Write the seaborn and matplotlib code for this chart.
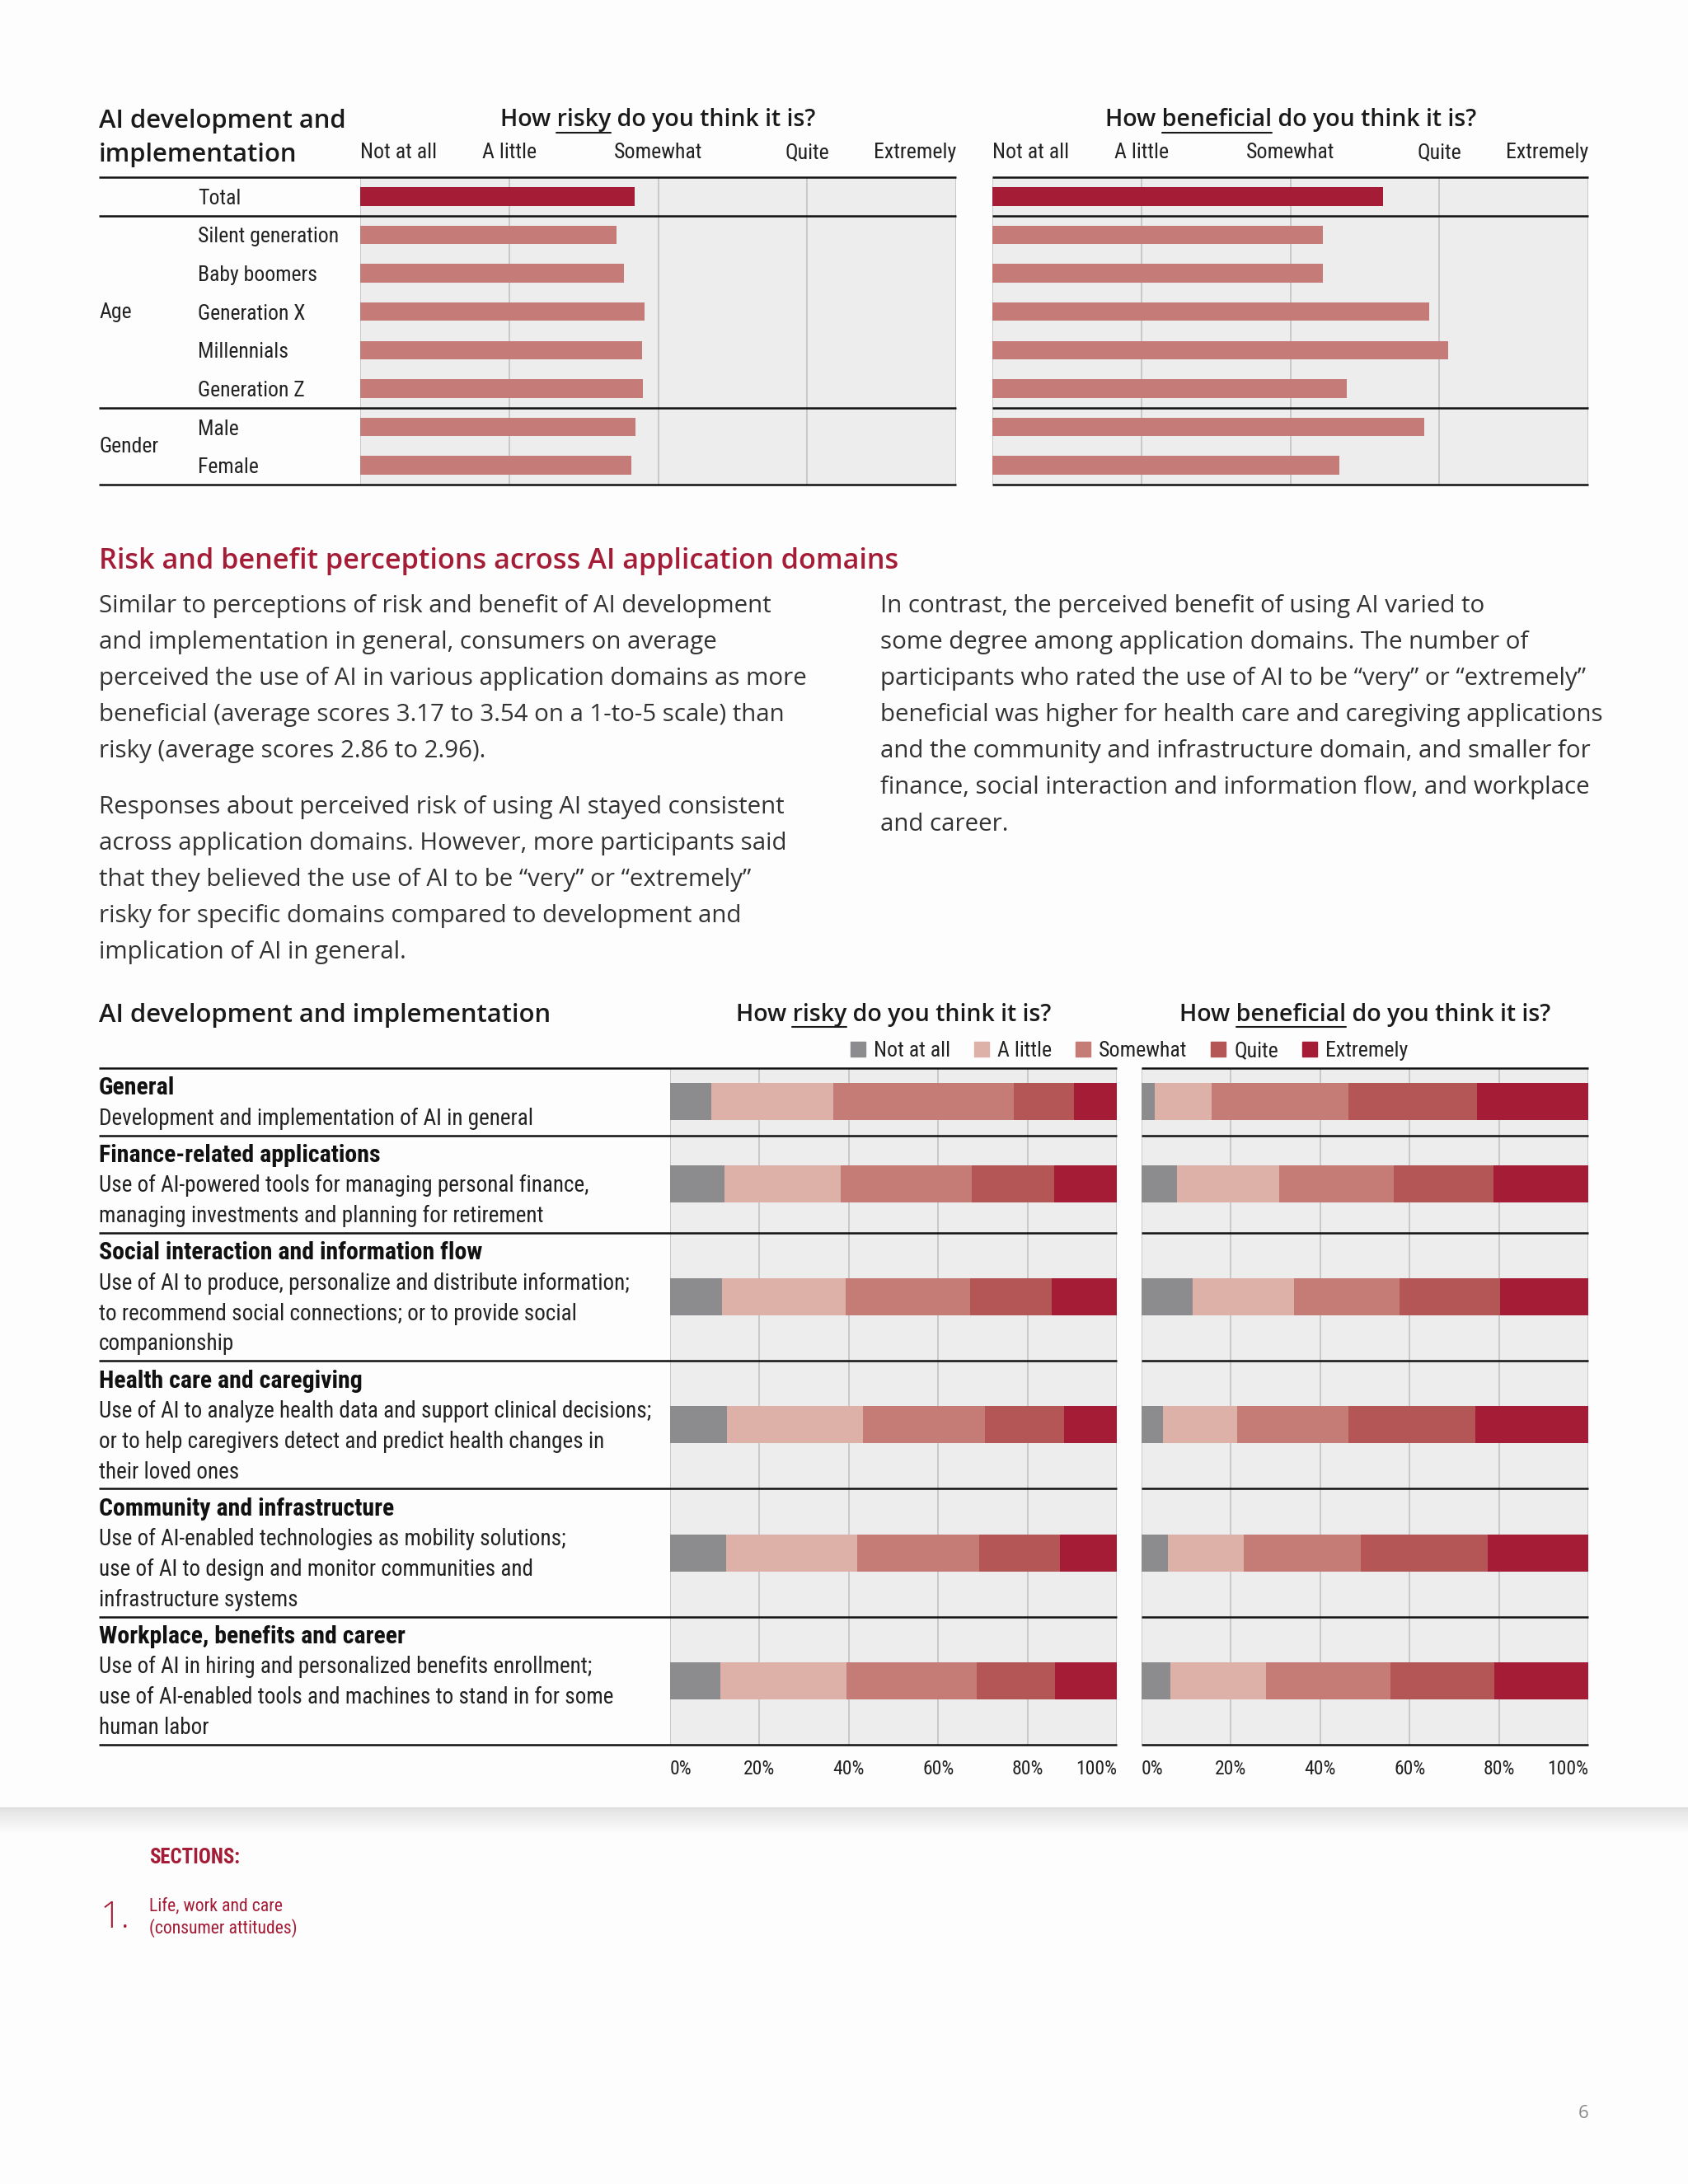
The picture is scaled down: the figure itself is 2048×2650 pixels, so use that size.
import numpy as np
import pandas as pd
import seaborn as sns
import matplotlib.pyplot as plt
from matplotlib import font_manager
from matplotlib.patches import Patch

W, H = 2048, 2650

# top chart: mean scores on the 1-to-5 scale
groups = ["Total", "Silent generation", "Baby boomers", "Generation X",
          "Millennials", "Generation Z", "Male", "Female"]
risk_means = [2.84, 2.72, 2.77, 2.91, 2.89, 2.90, 2.85, 2.82]
benefit_means = [3.62, 3.22, 3.22, 3.93, 4.06, 3.38, 3.90, 3.33]
scale_labels = ["Not at all", "A little", "Somewhat", "Quite", "Extremely"]

# bottom chart: share of answers per domain (%)
domains = ["General", "Finance-related applications",
           "Social interaction and information flow", "Health care and caregiving",
           "Community and infrastructure", "Workplace, benefits and career"]
domain_desc = [
    ["Development and implementation of AI in general"],
    ["Use of AI-powered tools for managing personal finance,",
     "managing investments and planning for retirement"],
    ["Use of AI to produce, personalize and distribute information;",
     "to recommend social connections; or to provide social",
     "companionship"],
    ["Use of AI to analyze health data and support clinical decisions;",
     "or to help caregivers detect and predict health changes in",
     "their loved ones"],
    ["Use of AI-enabled technologies as mobility solutions;",
     "use of AI to design and monitor communities and",
     "infrastructure systems"],
    ["Use of AI in hiring and personalized benefits enrollment;",
     "use of AI-enabled tools and machines to stand in for some",
     "human labor"],
]
risk_not_at_all = [9.3, 12.1, 11.6, 12.8, 12.6, 11.3]
risk_a_little = [27.3, 26.0, 27.7, 30.3, 29.3, 28.1]
risk_somewhat = [40.3, 29.5, 27.8, 27.3, 27.2, 29.3]
risk_quite = [13.5, 18.3, 18.3, 17.7, 18.1, 17.5]
risk_extremely = [9.6, 14.1, 14.6, 11.9, 12.8, 13.8]
benefit_not_at_all = [2.9, 7.9, 11.5, 4.8, 5.9, 6.5]
benefit_a_little = [12.8, 22.9, 22.6, 16.6, 16.9, 21.4]
benefit_somewhat = [30.6, 25.6, 23.6, 25.0, 26.2, 27.9]
benefit_quite = [28.7, 22.3, 22.6, 28.3, 28.5, 23.1]
benefit_extremely = [25.0, 21.3, 19.7, 25.3, 22.5, 21.1]
pct_ticks = [0, 20, 40, 60, 80, 100]

left_par = ["Similar to perceptions of risk and benefit of AI development",
            "and implementation in general, consumers on average",
            "perceived the use of AI in various application domains as more",
            "beneficial (average scores 3.17 to 3.54 on a 1-to-5 scale) than",
            "risky (average scores 2.86 to 2.96).",
            None,
            "Responses about perceived risk of using AI stayed consistent",
            "across application domains. However, more participants said",
            "that they believed the use of AI to be \u201cvery\u201d or \u201cextremely\u201d",
            "risky for specific domains compared to development and",
            "implication of AI in general."]
right_par = ["In contrast, the perceived benefit of using AI varied to",
             "some degree among application domains. The number of",
             "participants who rated the use of AI to be \u201cvery\u201d or \u201cextremely\u201d",
             "beneficial was higher for health care and caregiving applications",
             "and the community and infrastructure domain, and smaller for",
             "finance, social interaction and information flow, and workplace",
             "and career."]

CRIMSON = "#a51c36"
PANEL = "#ededee"
GRID = "#c6c6c8"
TXT = "#222222"
seg_colors = ["#8c8c8e", "#ddb0a8", "#c57b76", "#b55656", "#a51c36"]

sns.set_theme(style="white")
plt.rcParams["font.family"] = ["Open Sans", "DejaVu Sans"]

avail = {f.name for f in font_manager.fontManager.ttflist}
narrow_name = next((n for n in ["Liberation Sans Narrow", "Roboto Condensed", "Open Sans Condensed",
                                "Arial Narrow", "Roboto"] if n in avail), "DejaVu Sans")
NARROW = [narrow_name, "DejaVu Sans"]
WIDE = ["Open Sans", "DejaVu Sans"]

fig = plt.figure(figsize=(W / 100, H / 100), dpi=100, facecolor="#fdfdfd")
renderer = fig.canvas.get_renderer()

bg = fig.add_axes([0, 0, 1, 1], zorder=0)
bg.set_xlim(0, W)
bg.set_ylim(H, 0)
bg.axis("off")

ov = fig.add_axes([0, 0, 1, 1], zorder=10)
ov.set_xlim(0, W)
ov.set_ylim(H, 0)
ov.axis("off")
ov.patch.set_visible(False)


def fit_size(sample, target, **kw):
    # font size that gives the sample string the same width as in the reference
    t = bg.text(0, 0, sample, fontsize=20, **kw)
    w = t.get_window_extent(renderer).width
    t.remove()
    return 20 * target / w


FS_DESC = fit_size("Use of AI to analyze health data and support clinical decisions;", 667, family=NARROW)
FS_BOLD = fit_size("Finance-related applications", 341, family=NARROW, weight="bold")
FS_ROW = fit_size("Silent generation", 171, family=NARROW)
FS_COL = fit_size("Somewhat", 107, family=NARROW)
FS_PCT = fit_size("100%", 50, family=NARROW)
FS_PAR = fit_size("Similar to perceptions of risk and benefit of AI development", 815, family=WIDE)
FS_HEAD = fit_size("Risk and benefit perceptions across AI application domains", 970,
                   family=WIDE, weight="semibold")
FS_TITLE = fit_size("AI development and implementation", 548, family=WIDE, weight="semibold")
FS_Q = fit_size("How risky do you think it is?", 384, family=WIDE, weight="semibold")
FS_SEC = fit_size("SECTIONS:", 110, family=NARROW, weight="bold")
FS_NAV = fit_size("Life, work and care", 162, family=NARROW)


def panel(x0, x1, y0, y1):
    ax = fig.add_axes([x0 / W, 1 - y1 / H, (x1 - x0) / W, (y1 - y0) / H], zorder=2)
    ax.set_facecolor(PANEL)
    for s in ax.spines.values():
        s.set_visible(False)
    return ax


def question(xc, y, word):
    kw = dict(fontsize=FS_Q, color="#1a1a1a", va="center", family=WIDE, weight="semibold")
    t = bg.text(xc, y, f"How {word} do you think it is?", ha="center", **kw)
    wfull = t.get_window_extent(renderer).width
    tmp = bg.text(0, 0, f"How {word}", **kw)
    w1 = tmp.get_window_extent(renderer).width
    tmp.remove()
    tmp = bg.text(0, 0, word, **kw)
    w2 = tmp.get_window_extent(renderer).width
    tmp.remove()
    x0 = xc - wfull / 2
    bg.plot([x0 + w1 - w2, x0 + w1], [y + 15, y + 15], color="#1a1a1a", lw=1.5)


# ---------------- top chart ----------------
top_df = pd.DataFrame({"group": groups, "risk": risk_means, "benefit": benefit_means})
pal = [CRIMSON] + ["#c57b78"] * (len(groups) - 1)
TOP_Y0, TOP_Y1 = 215, 588
for col, (x0, x1) in [("risk", (437, 1160)), ("benefit", (1204, 1927))]:
    ax = panel(x0, x1, TOP_Y0, TOP_Y1)
    sns.barplot(data=top_df, x=col, y="group", hue="group", palette=pal, legend=False,
                width=0.48, linewidth=0, saturation=1, ax=ax)
    ax.set_xlim(1, 5)
    ax.set_ylim(len(groups) - 0.5, -0.5)
    ax.set_xlabel("")
    ax.set_ylabel("")
    ax.set_axisbelow(True)
    ax.xaxis.grid(True, color=GRID, lw=1.3)
    ax.xaxis.tick_top()
    ax.set_xticks([1, 2, 3, 4, 5], scale_labels)
    ax.tick_params(axis="x", length=0, pad=13, labelsize=FS_COL, labelcolor=TXT)
    for lab in ax.get_xticklabels():
        lab.set_family(NARROW)
        if lab.get_text() == scale_labels[0]:
            lab.set_ha("left")
        elif lab.get_text() == scale_labels[-1]:
            lab.set_ha("right")
    if col == "risk":
        ax.tick_params(axis="y", length=0, pad=(x0 - 240) * 0.72, labelsize=FS_ROW, labelcolor=TXT)
        for lab in ax.get_yticklabels():
            lab.set_ha("left")
            lab.set_family(NARROW)
    else:
        ax.set_yticklabels([])
        ax.tick_params(axis="y", length=0)
    row_h = (TOP_Y1 - TOP_Y0) / len(groups)
    xa = 120 if col == "risk" else x0
    for k in [0, 1, 6, 8]:
        ov.plot([xa, x1], [TOP_Y0 + k * row_h, TOP_Y0 + k * row_h], color="#111111", lw=1.8,
                solid_capstyle="butt")

bg.text(120, 147, "AI development and", fontsize=FS_TITLE, weight="semibold", color="#1a1a1a", va="center")
bg.text(120, 188, "implementation", fontsize=FS_TITLE, weight="semibold", color="#1a1a1a", va="center")
bg.text(120, 379, "Age", fontsize=FS_ROW, family=NARROW, color=TXT, va="center")
bg.text(120, 542, "Gender", fontsize=FS_ROW, family=NARROW, color=TXT, va="center")
question(798, 146, "risky")
question(1566, 146, "beneficial")

# ---------------- text block ----------------
bg.text(120, 681, "Risk and benefit perceptions across AI application domains",
        fontsize=FS_HEAD, weight="semibold", color=CRIMSON, va="center")
y = 736
for line in left_par:
    if line is None:
        y += 24
        continue
    bg.text(120, y, line, fontsize=FS_PAR, color="#333333", va="center")
    y += 44
for i, line in enumerate(right_par):
    bg.text(1068, 736 + 44 * i, line, fontsize=FS_PAR, color="#333333", va="center")

# ---------------- bottom chart ----------------
bg.text(120, 1232, "AI development and implementation", fontsize=FS_TITLE, weight="semibold",
        color="#1a1a1a", va="center")
question(1084, 1231, "risky")
question(1656, 1231, "beneficial")
handles = [Patch(color=c) for c in seg_colors]
fig.legend(handles, scale_labels, loc="center", bbox_to_anchor=(1370 / W, 1 - 1275 / H), ncol=5,
           frameon=False, handlelength=0.7, handleheight=0.7, handletextpad=0.4, columnspacing=1.1,
           prop={"family": NARROW, "size": FS_COL}, labelcolor=TXT)

n_lines = np.array([1 + len(d) for d in domain_desc])
row_heights = 36.8 * n_lines + 8
edges = 1296 + np.concatenate([[0], np.cumsum(row_heights)])
centers = (edges[:-1] + edges[1:]) / 2

risk_parts = [risk_not_at_all, risk_a_little, risk_somewhat, risk_quite, risk_extremely]
benefit_parts = [benefit_not_at_all, benefit_a_little, benefit_somewhat, benefit_quite, benefit_extremely]
for parts, (x0, x1) in [(risk_parts, (813, 1355)), (benefit_parts, (1385, 1927))]:
    ax = panel(x0, x1, edges[0], edges[-1])
    left = np.zeros(len(domains))
    for vals, c in zip(parts, seg_colors):
        ax.barh(centers, vals, left=left, height=45, color=c, linewidth=0)
        left += np.array(vals)
    ax.set_xlim(0, 100)
    ax.set_ylim(edges[-1], edges[0])
    ax.set_yticks([])
    ax.set_axisbelow(True)
    ax.xaxis.grid(True, color=GRID, lw=1.3)
    ax.set_xticks(pct_ticks, [f"{v}%" for v in pct_ticks])
    ax.tick_params(axis="x", length=0, pad=13, labelsize=FS_PCT, labelcolor=TXT)
    for lab in ax.get_xticklabels():
        lab.set_family(NARROW)
        if lab.get_text() == "0%":
            lab.set_ha("left")
        elif lab.get_text() == "100%":
            lab.set_ha("right")
    xa = 120 if x0 == 813 else x0
    for e in edges:
        ov.plot([xa, x1], [e, e], color="#111111", lw=1.8, solid_capstyle="butt")

for i, name in enumerate(domains):
    y0 = edges[i] + 24.5
    bg.text(120, y0, name, fontsize=FS_BOLD, weight="bold", family=NARROW, color="#111111", va="center")
    for j, line in enumerate(domain_desc[i]):
        bg.text(120, y0 + 36.8 * (j + 1), line, fontsize=FS_DESC, family=NARROW, color=TXT, va="center")

# ---------------- footer ----------------
grad = np.zeros((30, 2, 4))
grad[..., :3] = 0.55
grad[..., 3] = np.linspace(0.22, 0.0, 30)[:, None]
bg.imshow(grad, extent=[0, W, 2225, 2195], aspect="auto", zorder=1)
bg.plot([0, W], [2194, 2194], color="#dddddd", lw=1.5)
bg.set_xlim(0, W)
bg.set_ylim(H, 0)

bg.text(181, 2254, "SECTIONS:", fontsize=FS_SEC, weight="bold", family=NARROW, color=CRIMSON, va="center")
bg.text(122, 2328, "1.", fontsize=32, weight="light", color=CRIMSON, va="center")
bg.text(181, 2313, "Life, work and care", fontsize=FS_NAV, family=NARROW, color=CRIMSON, va="center")
bg.text(181, 2340, "(consumer attitudes)", fontsize=FS_NAV, family=NARROW, color=CRIMSON, va="center")
bg.text(1928, 2565, "6", fontsize=16, color="#8a8a8a", va="center", ha="right")

fig.savefig("out.png", dpi=100, facecolor=fig.get_facecolor())
